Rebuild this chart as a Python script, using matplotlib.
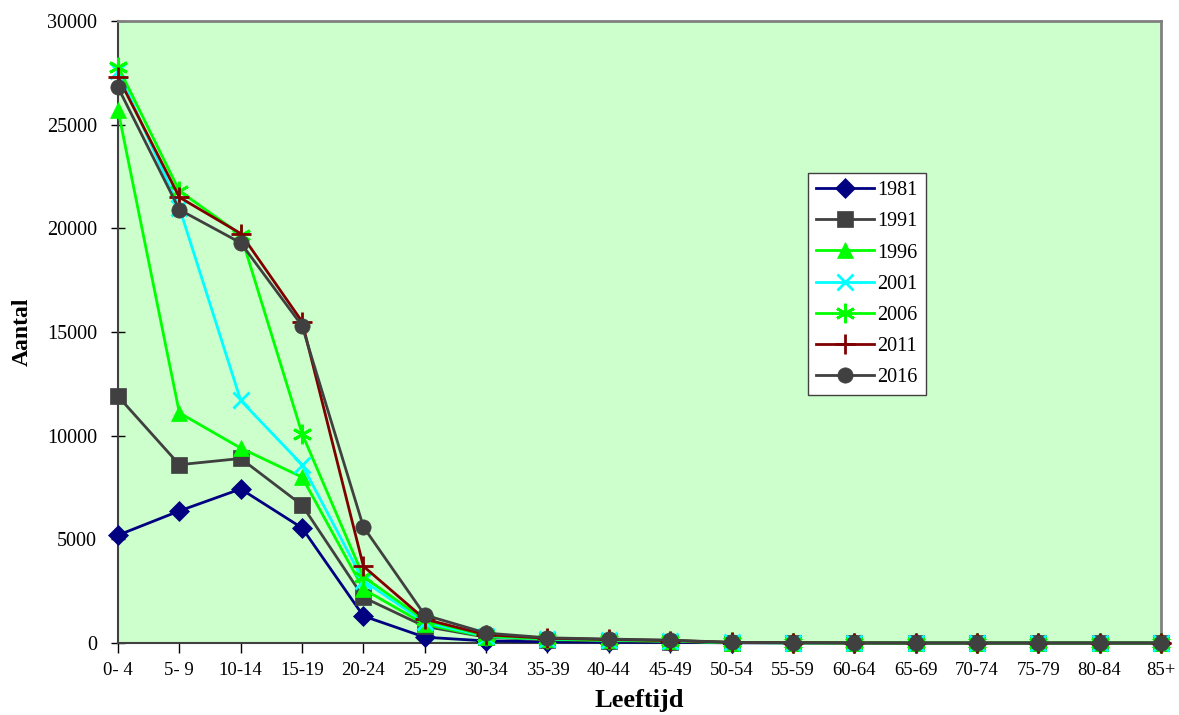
import numpy as np
import matplotlib.pyplot as plt

# age groups
ages = ['0- 4', '5- 9', '10-14', '15-19', '20-24', '25-29', '30-34', '35-39', '40-44',
        '45-49', '50-54', '55-59', '60-64', '65-69', '70-74', '75-79', '80-84', '85+']

# counts per census year
y1981 = [5200, 6370, 7430, 5550, 1300, 280, 100, 60, 40, 30, 10, 5, 0, 0, 0, 0, 0, 0]
y1991 = [11900, 8600, 8900, 6650, 2200, 800, 280, 150, 100, 70, 20, 10, 5, 0, 0, 0, 0, 0]
y1996 = [25700, 11100, 9400, 8000, 2600, 900, 300, 180, 130, 90, 20, 10, 5, 0, 0, 0, 0, 0]
y2001 = [27600, 21000, 11700, 8600, 3000, 1000, 320, 190, 140, 100, 25, 10, 5, 0, 0, 0, 0, 0]
y2006 = [27800, 21800, 19700, 10100, 3200, 1100, 350, 200, 150, 110, 25, 10, 5, 0, 0, 0, 0, 0]
y2011 = [27300, 21500, 19750, 15500, 3700, 1150, 400, 230, 170, 120, 30, 15, 5, 0, 0, 0, 0, 0]
y2016 = [26800, 20900, 19300, 15300, 5600, 1350, 480, 250, 190, 140, 30, 15, 5, 0, 0, 0, 0, 0]

series = [
    ('1981', y1981, '#000080', 'D', 10),
    ('1991', y1991, '#404040', 's', 11),
    ('1996', y1996, '#00FF00', '^', 12),
    ('2001', y2001, '#00FFFF', 'x', 12),
    ('2006', y2006, '#00FF00', (6, 2, 0), 14),
    ('2011', y2011, '#800000', '+', 14),
    ('2016', y2016, '#404040', 'o', 11),
]

plt.rcParams['font.family'] = ['Liberation Serif', 'DejaVu Serif']

fig = plt.figure(figsize=(11.79, 7.15), dpi=100)
ax = fig.add_axes([0.1001, 0.1007, 0.8846, 0.8699])
ax.set_facecolor('#CCFFCC')

x = np.arange(len(ages))
for name, vals, col, mk, ms in series:
    thin = mk in ('x', '+') or isinstance(mk, tuple)
    ax.plot(x, vals, color=col, lw=2, marker=mk, markersize=ms,
            markeredgewidth=2 if thin else 0.5, markerfacecolor=col,
            markeredgecolor=col, label=name, clip_on=False, zorder=3)

ax.set_xlim(0, len(ages) - 1)
ax.set_ylim(0, 30000)
ax.set_xticks(x)
ax.set_xticklabels(ages)
ax.set_yticks(np.arange(0, 30001, 5000))

ax.tick_params(axis='x', direction='out', length=7, width=1, labelsize=13.5, pad=7)
ax.tick_params(axis='y', direction='inout', length=10, width=1, labelsize=14.5, pad=10)

for s in ['left', 'bottom']:
    ax.spines[s].set_color('#404040')
    ax.spines[s].set_linewidth(1.5)
for s in ['top', 'right']:
    ax.spines[s].set_color('#808080')
    ax.spines[s].set_linewidth(2)

ax.set_xlabel('Leeftijd', fontsize=19, fontweight='bold', labelpad=7)
ax.set_ylabel('Aantal', fontsize=17, fontweight='bold', labelpad=10)

leg = ax.legend(loc='upper left', bbox_to_anchor=(0.685, 0.758), bbox_transform=fig.transFigure,
                fontsize=14.5, frameon=True, fancybox=False, edgecolor='#404040',
                facecolor='white', framealpha=1, handlelength=2.9, borderpad=0.4,
                labelspacing=0.6, handletextpad=0.15, borderaxespad=0)
leg.get_frame().set_linewidth(1)

fig.savefig('out.png', dpi=100)
